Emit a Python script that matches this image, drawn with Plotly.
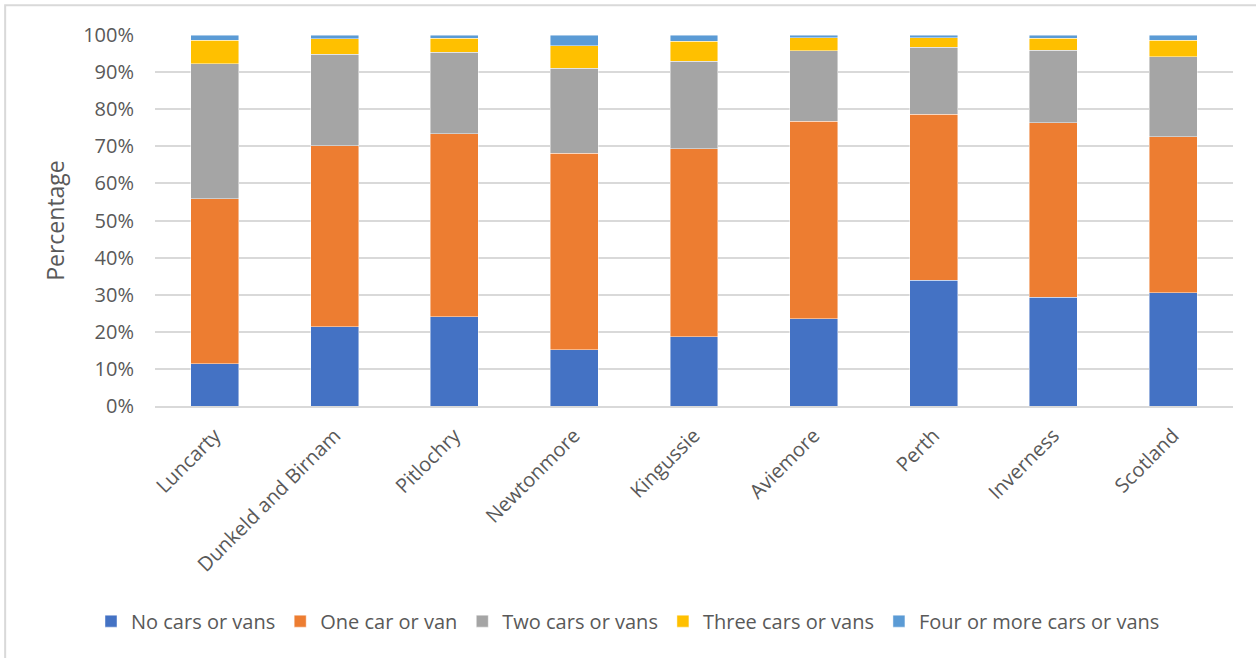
import plotly.graph_objects as go

# Household car/van availability by settlement (share of households, %)
places = ["Luncarty", "Dunkeld and Birnam", "Pitlochry", "Newtonmore", "Kingussie",
          "Aviemore", "Perth", "Inverness", "Scotland"]

no_cars = [11.4, 21.3, 24.0, 15.1, 18.6, 23.5, 33.9, 29.3, 30.5]
one_car = [44.4, 48.9, 49.4, 53.0, 50.8, 53.3, 44.7, 47.1, 42.1]
two_cars = [36.4, 24.6, 22.0, 22.9, 23.5, 19.0, 18.1, 19.5, 21.6]
three_cars = [6.4, 4.2, 3.7, 6.1, 5.4, 3.4, 2.5, 3.2, 4.4]
four_plus = [1.4, 1.0, 0.9, 2.9, 1.7, 0.8, 0.8, 0.9, 1.4]

series = [
    ("No cars or vans", no_cars, "#4472C4"),
    ("One car or van", one_car, "#ED7D31"),
    ("Two cars or vans", two_cars, "#A5A5A5"),
    ("Three cars or vans", three_cars, "#FFC000"),
    ("Four or more cars or vans", four_plus, "#5B9BD5"),
]

FONT = "Open Sans"
GREY_TEXT = "#595959"

fig = go.Figure()
for name, vals, colour in series:
    fig.add_trace(go.Bar(
        x=places, y=vals, name=name,
        marker=dict(color=colour, line=dict(color="rgba(255,255,255,0.6)", width=0.75)),
    ))

fig.update_layout(
    width=1256, height=658,
    barmode="stack", bargap=0.6,
    plot_bgcolor="white", paper_bgcolor="white",
    margin=dict(l=155, r=23, t=35, b=252, autoexpand=False),
    font=dict(family=FONT, color=GREY_TEXT, size=20),
    legend=dict(
        orientation="h", xref="container", yref="container",
        x=0.5, xanchor="center", y=0.056, yanchor="middle",
        font=dict(size=20, color=GREY_TEXT), traceorder="normal",
        itemwidth=30,
    ),
    shapes=[dict(
        type="rect", xref="paper", yref="paper",
        x0=-0.139, x1=1.2, y0=-1.0, y1=1.08,
        line=dict(color="#d9d9d9", width=2), fillcolor="rgba(0,0,0,0)",
        layer="below",
    )],
)

fig.update_yaxes(
    range=[0, 100], dtick=10, ticksuffix="%",
    showgrid=True, gridcolor="#d9d9d9", gridwidth=2,
    zeroline=False, showline=False, ticks="",
    ticklabelstandoff=20,
    tickfont=dict(size=20, color=GREY_TEXT),
    title=dict(text="Percentage", font=dict(size=23, color=GREY_TEXT), standoff=12),
)
fig.update_xaxes(
    tickangle=-45, showgrid=False, showline=True, linecolor="#d9d9d9", linewidth=2,
    ticks="", ticklabelstandoff=8,
    tickfont=dict(size=20, color=GREY_TEXT),
)

fig.write_html("out.html")
